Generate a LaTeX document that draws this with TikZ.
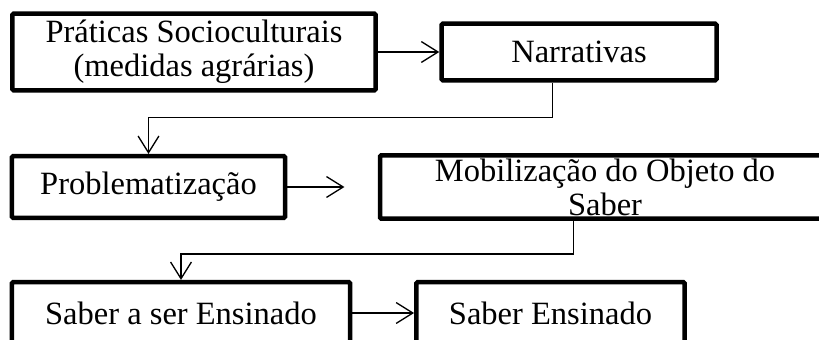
\documentclass[tikz,border=0pt]{standalone}
\usepackage{fontspec}
\setmainfont{Liberation Serif}
\usetikzlibrary{arrows.meta}

\begin{document}
\begin{tikzpicture}[x=0.6pt, y=-0.6pt,
                    box/.style={draw, line width=2.7pt, rounded corners=0.8pt,
                                align=center, inner sep=0pt, font=\fontsize{19.5}{20.5}\selectfont},
                    flow/.style={line width=0.8pt,
                                 -{Straight Barb[length=10pt, width=12.5pt, line width=0.8pt]}}]
  \useasboundingbox (0,0) rectangle (819,340);
  \clip (0,0) rectangle (819,340);
  \node[box, minimum width=218pt, minimum height=46pt] (pratica) at (194,52)
    {Práticas Socioculturais\\(medidas agrárias)};
  \node[box, minimum width=165pt, minimum height=34pt] (narrativas) at (579,52) {Narrativas};
  \node[box, minimum width=164pt, minimum height=37pt] (problema) at (148.5,187) {Problematização};
  \node[box, minimum width=270pt, minimum height=38pt] (mobiliza) at (605,187)
    {Mobilização do Objeto do\\Saber};
  \node[box, minimum width=203pt, minimum height=37pt] (aensinar) at (181,313) {Saber a ser Ensinado};
  \node[box, minimum width=161pt, minimum height=37pt] (ensinado) at (550.5,313) {Saber Ensinado};

  \draw[flow] (pratica.east) -- (narrativas.west);
  \draw[flow] ([xshift=-16pt]narrativas.south) -- ++(0,35) -| (problema.north);
  \draw[flow, shorten >=20pt] (problema.east) -- (mobiliza.west);
  \draw[flow] ([xshift=-19pt]mobiliza.south) -- ++(0,33) -| (aensinar.north);
  \draw[flow] (aensinar.east) -- (ensinado.west);
\end{tikzpicture}
\end{document}
